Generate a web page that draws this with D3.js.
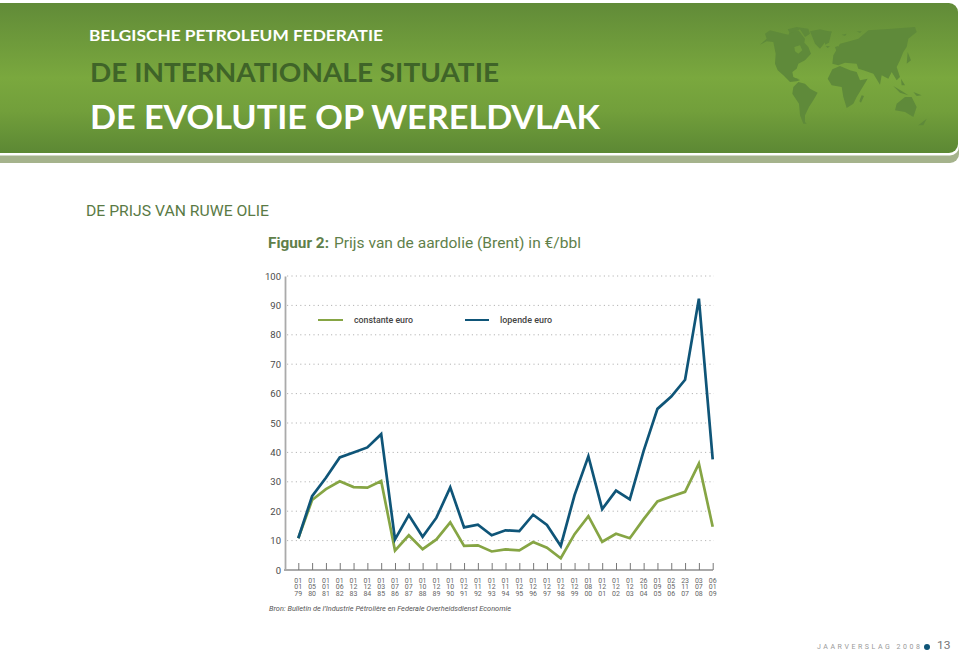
<!DOCTYPE html>
<html><head><meta charset="utf-8">
<script src="https://cdn.jsdelivr.net/npm/d3@7"></script>
<style>html,body{margin:0;padding:0;background:#fff}svg{display:block}text{font-family:Roboto,sans-serif}</style>
</head><body><svg id="c" width="960" height="651"></svg>
<script>
const years=["79","80","81","82","83","84","85","86","87","88","89","90","91","92","93","94","95","96","97","98","99","00","01","02","03","04","05","06","07","08","09"];
const days=["01","01","01","01","01","01","01","01","01","01","01","01","01","01","01","01","01","01","01","01","01","01","01","01","01","26","01","02","23","03","06"];
const months=["01","05","01","06","12","12","03","07","07","10","12","10","12","11","12","11","12","12","12","12","12","08","12","12","12","10","09","05","11","07","01"];
const lopende=[10.8,25.1,31.4,38.3,40,41.7,46.2,10.4,18.7,11.3,17.8,28.1,14.5,15.4,11.8,13.5,13.2,18.8,15.3,8.2,25.5,38.7,20.7,27,24,40.5,54.8,59,64.7,92.3,37.6];
const constante=[10.8,23.8,27.5,30.2,28.2,28,30.3,6.6,11.8,7.1,10.4,16.2,8.2,8.4,6.3,7,6.7,9.5,7.6,4,12.2,18.3,9.6,12.3,10.8,17.3,23.3,25,26.6,36.2,14.7];
const yTicks=[0,10,20,30,40,50,60,70,80,90,100];
const seriesNames=["constante euro","lopende euro"];
const seriesColors=["#86a544","#0f5578"];
const mapWest=[
[[15,68],[35,50],[30,35],[45,25],[75,32],[100,38],[105,30],[130,25],[150,50],[148,62],[160,75],[168,95],[150,115],[130,125],[125,140],[112,150],[115,165],[135,175],[125,178],[105,180],[85,160],[68,145],[60,125],[62,95],[55,60],[35,58]],
[[98,22],[125,15],[160,20],[165,35],[150,45],[135,22],[105,35]],
[[165,28],[195,22],[230,30],[215,55],[195,80],[180,65],[172,45]],
[[115,195],[130,180],[150,185],[165,200],[188,212],[175,235],[162,255],[150,280],[150,300],[155,305],[145,305],[135,280],[132,245],[112,215]],
[[212,72],[225,73],[218,78]],
[[118,168],[135,172],[125,172]]
];
const mapEast=[
[[8,170],[22,142],[45,132],[75,145],[95,150],[105,175],[128,170],[110,200],[95,225],[85,245],[65,258],[55,225],[50,195],[20,190]],
[[22,125],[25,100],[45,65],[65,60],[100,50],[130,25],[200,20],[270,15],[275,30],[250,50],[245,75],[235,90],[225,115],[215,135],[225,165],[215,175],[200,150],[190,170],[170,160],[165,188],[145,155],[115,145],[100,140],[95,125],[60,122],[40,130]],
[[110,220],[117,222],[108,242],[103,238]],
[[210,265],[215,245],[240,225],[260,225],[275,255],[265,285],[240,270]],
[[205,192],[235,210],[250,220],[225,212]],
[[228,170],[240,190],[230,190]],
[[265,210],[290,220],[275,222]],
[[280,310],[305,290],[295,310]],
[[248,90],[258,115],[245,125]],
[[30,75],[40,72],[35,90]],
[[50,38],[65,35],[60,42]],
[[95,28],[110,28],[105,33]],
[[0,30],[20,28],[12,62],[0,68]]
];
const mapHoles=[[[118,75],[135,70],[142,85],[130,95],[120,88]]];
const svg=d3.select("#c");
const defs=svg.append("defs");
const g=defs.append("linearGradient").attr("id","hdr").attr("x1",0).attr("x2",0).attr("y1",0).attr("y2",1);
[[0,"#618b38"],[.5,"#7aa83e"],[.72,"#729f3b"],[1,"#5c8834"]].forEach(d=>g.append("stop").attr("offset",d[0]).attr("stop-color",d[1]));
svg.append("rect").attr("x",-20).attr("y",8).attr("width",979).attr("height",155).attr("rx",9).attr("fill","#a5b38c");
svg.append("rect").attr("x",-20).attr("y",2).attr("width",979).attr("height",153.5).attr("rx",9).attr("fill","#fff");
svg.append("rect").attr("x",-20).attr("y",3).attr("width",978).attr("height",150).attr("rx",9).attr("fill","url(#hdr)");
const mapLine=(ox)=>d3.line().x(d=>ox+d[0]/3).y(d=>22+d[1]/3).curve(d3.curveLinearClosed);
const mapG=svg.append("g").attr("fill","#5f8a3a");
mapG.selectAll(".w").data(mapWest).join("path").attr("class","w").attr("d",mapLine(755));
mapG.selectAll(".e").data(mapEast).join("path").attr("class","e").attr("d",mapLine(825));
svg.append("g").attr("fill","#6f9c3c").selectAll("path").data(mapHoles).join("path").attr("d",mapLine(755));
function txt(s,x,y,size,fill,len,opt={}){
  const t=svg.append("text").attr("x",x).attr("y",y).attr("font-size",size).attr("fill",fill).text(s);
  if(len)t.attr("textLength",len).attr("lengthAdjust",opt.adjust||"spacingAndGlyphs");
  if(opt.weight)t.attr("font-weight",opt.weight);
  if(opt.family)t.style("font-family",opt.family);
  if(opt.style)t.attr("font-style",opt.style);
  return t;
}
const head="Lato,sans-serif";
txt("BELGISCHE PETROLEUM FEDERATIE",89,41,15,"#fff",294,{family:head,weight:700});
txt("DE INTERNATIONALE SITUATIE",90,82,27,"#3f6428",409,{family:head,weight:700});
txt("DE EVOLUTIE OP WERELDVLAK",90,129,33,"#fff",510,{family:head,weight:700});
txt("DE PRIJS VAN RUWE OLIE",86,216,14.5,"#5a7a45",183);
txt("Figuur 2:",268,248,14.5,"#5f7f4a",61,{weight:700});
txt("Prijs van de aardolie (Brent) in €/bbl",334,248,14.5,"#5f7f4a",247);

const x=d3.scalePoint().domain(years).range([298.3,712.7]);
const y=d3.scaleLinear().domain([0,100]).range([570,276]);
svg.append("g").selectAll("line").data(yTicks.slice(1)).join("line")
 .attr("x1",287).attr("x2",714).attr("y1",d=>y(d)).attr("y2",d=>y(d))
 .attr("stroke","#b5b5b5").attr("stroke-width",1).attr("stroke-dasharray","1.2 3.2");
const ax=svg.append("g").attr("transform","translate(285,0)").call(d3.axisLeft(y).tickValues(yTicks).tickSize(0).tickPadding(4));
ax.select(".domain").attr("stroke","#aaa").attr("stroke-width",1.8);
ax.selectAll("text").attr("font-size",9.5).attr("fill","#4a4a4a").style("font-family","Roboto");
const bx=svg.append("g").attr("transform","translate(0,570)").call(d3.axisBottom(x).tickSize(-7).tickFormat(""));
bx.select(".domain").attr("d","M284,0H713").attr("stroke","#aaa").attr("stroke-width",1.8);
bx.selectAll(".tick line").attr("stroke","#777").attr("stroke-width",1);
const lab=svg.append("g").selectAll("text").data(years).join("text").attr("text-anchor","middle").attr("font-size",7).attr("fill","#666");
lab.each(function(d,i){
  const t=d3.select(this);
  [days[i],months[i],d].forEach((s,j)=>t.append("tspan").attr("x",x(d)).attr("y",583.3+j*6.1).text(s));
});
const line=d3.line().x((d,i)=>x(years[i])).y(d=>y(d));
[constante,lopende].forEach((s,i)=>svg.append("path").attr("d",line(s)).attr("fill","none").attr("stroke",seriesColors[i]).attr("stroke-width",2.7).attr("stroke-linejoin","miter"));
[[318,343,354,59],[465,489,500,52]].forEach((p,i)=>{
  svg.append("line").attr("x1",p[0]).attr("x2",p[1]).attr("y1",320).attr("y2",320).attr("stroke",seriesColors[i]).attr("stroke-width",2);
  txt(seriesNames[i],p[2],323,8.5,"#444",p[3],{weight:500});
});
txt("Bron: Bulletin de l’Industrie Pétrolière en Federale Overheidsdienst Economie",269,611,8,"#555",242,{style:"italic"});
txt("JAARVERSLAG 2008",817,649,7,"#999",103,{adjust:"spacing"});
svg.append("circle").attr("cx",927).attr("cy",647).attr("r",3).attr("fill","#0f5578");
txt("13",937,648.5,11.5,"#777",13.5);
</script></body></html>
